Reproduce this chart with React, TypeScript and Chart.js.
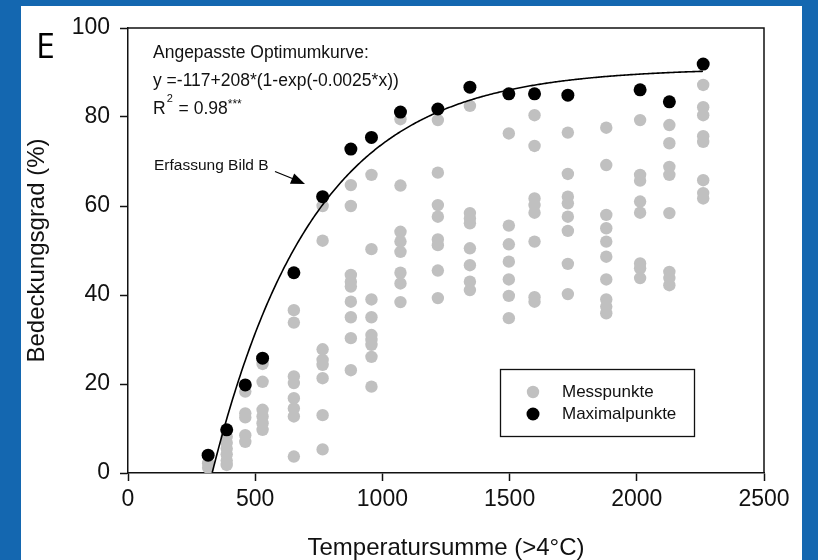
import React, { useEffect, useRef } from "react";
import { Chart, registerables } from "chart.js";

Chart.register(...registerables);

// ---------- data ----------
const xTickValues = [0, 500, 1000, 1500, 2000, 2500];
const yTickValues = [0, 20, 40, 60, 80, 100];

// Maximalpunkte (black)
const maxX = [315, 388, 461, 529, 652, 765, 876, 957, 1071, 1218, 1344, 1497, 1598, 1729, 2013, 2128, 2261];
const maxY = [4.0, 9.7, 19.8, 25.8, 45.0, 62.1, 72.8, 75.4, 81.1, 81.8, 86.7, 85.2, 85.2, 84.9, 86.1, 83.4, 91.9];

// Messpunkte (grey): one x per sampling date, several y values each
const messX = [315, 388, 461, 529, 652, 765, 876, 957, 1071, 1218, 1344, 1497, 1598, 1729, 1880, 2013, 2128, 2261];
const messY = [
  [2.2, 1.2],
  [8.2, 6.8, 5.5, 4.2, 2.8, 1.8],
  [18.3, 13.4, 12.5, 8.5, 7.0],
  [24.5, 20.5, 14.2, 12.7, 11.2, 9.7],
  [36.6, 33.8, 21.7, 20.2, 16.8, 14.5, 12.7, 3.7],
  [60.0, 52.2, 27.8, 25.4, 24.3, 21.3, 13.0, 5.3],
  [64.7, 60.0, 44.5, 43.0, 41.9, 38.5, 35.0, 30.3, 23.1],
  [67.0, 50.3, 39.0, 35.0, 31.0, 29.9, 28.8, 26.1, 19.4],
  [79.5, 64.6, 54.2, 52.0, 49.7, 45.0, 42.6, 38.4],
  [79.3, 67.5, 60.2, 57.6, 52.5, 51.2, 45.5, 39.3],
  [82.5, 58.4, 57.2, 56.1, 50.5, 46.7, 43.0, 41.1],
  [76.3, 55.6, 51.4, 47.5, 43.5, 39.8, 34.8],
  [80.4, 73.5, 61.7, 60.2, 58.5, 52.0, 39.5, 38.5],
  [76.5, 67.2, 62.1, 60.6, 57.6, 54.4, 47.0, 40.2],
  [77.6, 69.2, 58.0, 55.0, 52.0, 48.6, 43.5, 39.0, 37.4, 35.9],
  [79.3, 67.0, 65.7, 61.0, 58.5, 47.1, 46.0, 43.8],
  [78.2, 74.1, 68.8, 67.0, 58.4, 45.2, 43.8, 42.2],
  [87.2, 82.2, 80.4, 75.7, 74.4, 65.8, 62.9, 61.7],
];

// Fitted curve as printed on the chart: y = -117 + 208*(1-exp(-0.0025*x))
const fitA = -117;
const fitB = 208;
const fitK = 0.0025;
const fitXStart = 331;
const fitXEnd = 2260;

const seriesLabels = ["Messpunkte", "Maximalpunkte"];
const annotationLines = ["Angepasste Optimumkurve:", "y =-117+208*(1-exp(-0.0025*x))"];
const r2Text = "0.98";
const markerLabel = "Erfassung Bild B";
const panelLetter = "E";
const xTitle = "Temperatursumme (>4°C)";
const yTitle = "Bedeckungsgrad (%)";

// ---------- styles ----------
const BLUE = "#1467b0";
const GREY = "#c0c0c0";
const FONT = "'Liberation Sans', Arial, sans-serif";

const buildFit = () => {
  const pts: { x: number; y: number }[] = [];
  for (let x = fitXStart; x <= fitXEnd; x += 5) {
    pts.push({ x, y: fitA + fitB * (1 - Math.exp(-fitK * x)) });
  }
  pts.push({ x: fitXEnd, y: fitA + fitB * (1 - Math.exp(-fitK * fitXEnd)) });
  return pts;
};

const decorPlugin = {
  id: "decor",
  afterDraw(chart: any) {
    const { ctx, chartArea } = chart;
    ctx.save();
    // frame (top + right)
    ctx.strokeStyle = "#111";
    ctx.lineWidth = 1.5;
    ctx.beginPath();
    ctx.moveTo(chartArea.left, chartArea.top);
    ctx.lineTo(chartArea.right, chartArea.top);
    ctx.lineTo(chartArea.right, chartArea.bottom);
    ctx.stroke();

    // panel letter
    ctx.fillStyle = "#000";
    ctx.font = "34px 'Open Sans', sans-serif";
    ctx.textAlign = "left";
    ctx.textBaseline = "alphabetic";
    ctx.fillText(panelLetter, 36, 58);

    // annotation
    ctx.fillStyle = "#111";
    ctx.font = `17.5px ${FONT}`;
    ctx.fillText(annotationLines[0], 153, 58);
    ctx.fillText(annotationLines[1], 153, 86);
    let x = 153;
    ctx.fillText("R", x, 114);
    x += ctx.measureText("R").width;
    ctx.font = `11px ${FONT}`;
    ctx.fillText("2", x + 1, 102);
    x += ctx.measureText("2").width + 2;
    ctx.font = `17.5px ${FONT}`;
    const mid = " = " + r2Text;
    ctx.fillText(mid, x, 114);
    x += ctx.measureText(mid).width;
    ctx.font = `12px ${FONT}`;
    ctx.fillText("***", x, 108);

    // marker label + arrow
    ctx.font = `15.5px ${FONT}`;
    ctx.fillText(markerLabel, 154, 170);
    ctx.strokeStyle = "#000";
    ctx.lineWidth = 1.3;
    ctx.beginPath();
    ctx.moveTo(275, 171.5);
    ctx.lineTo(296, 180);
    ctx.stroke();
    const tx = 305, ty = 184;
    const ang = Math.atan2(ty - 171.5, tx - 275);
    const hl = 14, hw = 5.5;
    const bx = tx - hl * Math.cos(ang), by = ty - hl * Math.sin(ang);
    ctx.fillStyle = "#000";
    ctx.beginPath();
    ctx.moveTo(tx, ty);
    ctx.lineTo(bx + hw * Math.sin(ang), by - hw * Math.cos(ang));
    ctx.lineTo(bx - hw * Math.sin(ang), by + hw * Math.cos(ang));
    ctx.closePath();
    ctx.fill();

    // legend
    ctx.strokeStyle = "#111";
    ctx.lineWidth = 1.3;
    ctx.fillStyle = "#fff";
    ctx.fillRect(500, 369, 194, 67);
    ctx.strokeRect(500.5, 369.5, 194, 67);
    ctx.fillStyle = GREY;
    ctx.beginPath();
    ctx.arc(533, 392, 6.2, 0, Math.PI * 2);
    ctx.fill();
    ctx.fillStyle = "#000";
    ctx.beginPath();
    ctx.arc(533, 414, 6.5, 0, Math.PI * 2);
    ctx.fill();
    ctx.fillStyle = "#111";
    ctx.font = `17px ${FONT}`;
    ctx.textBaseline = "middle";
    ctx.fillText(seriesLabels[0], 562, 392);
    ctx.fillText(seriesLabels[1], 562, 414);
    ctx.restore();
  },
};

export default function App() {
  const ref = useRef<HTMLCanvasElement | null>(null);

  useEffect(() => {
    if (!ref.current) return;
    const greyPts: { x: number; y: number }[] = [];
    messX.forEach((x, i) => messY[i].forEach((y) => greyPts.push({ x, y })));
    const blackPts = maxX.map((x, i) => ({ x, y: maxY[i] }));

    const chart = new Chart(ref.current, {
      type: "scatter",
      data: {
        datasets: [
          {
            label: seriesLabels[1],
            data: blackPts,
            backgroundColor: "#000",
            borderWidth: 0,
            pointRadius: 6.5,
            order: 0,
          },
          {
            type: "line",
            label: "fit",
            data: buildFit(),
            borderColor: "#000",
            borderWidth: 1.6,
            pointRadius: 0,
            fill: false,
            tension: 0,
            order: 1,
          } as any,
          {
            label: seriesLabels[0],
            data: greyPts,
            backgroundColor: GREY,
            borderWidth: 0,
            pointRadius: 6.2,
            order: 2,
          },
        ],
      },
      options: {
        responsive: false,
        animation: false,
        layout: { padding: { left: 0, right: 54, top: 28, bottom: 0 } },
        plugins: {
          legend: { display: false },
          tooltip: { enabled: false },
        },
        scales: {
          x: {
            type: "linear",
            min: 0,
            max: 2500,
            afterBuildTicks: (s: any) => {
              s.ticks = xTickValues.map((v) => ({ value: v }));
            },
            afterFit: (s: any) => {
              s.height = 87;
            },
            ticks: {
              color: "#111",
              font: { family: FONT, size: 23 },
              padding: 5,
              maxRotation: 0,
              callback: (v: any) => String(v),
            },
            grid: {
              drawOnChartArea: false,
              drawTicks: true,
              tickLength: 8,
              tickColor: "#111",
              tickWidth: 1.5,
            },
            border: { display: true, color: "#111", width: 1.5 },
            title: {
              display: true,
              text: xTitle,
              color: "#111",
              font: { family: FONT, size: 24, lineHeight: 1 },
              padding: { top: 0, bottom: 0 },
            },
          },
          y: {
            type: "linear",
            min: 0,
            max: 100,
            afterBuildTicks: (s: any) => {
              s.ticks = yTickValues.map((v) => ({ value: v }));
            },
            afterFit: (s: any) => {
              s.width = 128;
            },
            ticks: {
              color: "#111",
              font: { family: FONT, size: 23 },
              padding: 10,
              callback: (v: any) => String(v),
            },
            grid: {
              drawOnChartArea: false,
              drawTicks: true,
              tickLength: 8,
              tickColor: "#111",
              tickWidth: 1.5,
            },
            border: { display: true, color: "#111", width: 1.5 },
            title: {
              display: true,
              text: yTitle,
              color: "#111",
              font: { family: FONT, size: 24, lineHeight: 1 },
              padding: { top: 25, bottom: 0 },
            },
          },
        },
      },
      plugins: [decorPlugin],
    });
    return () => chart.destroy();
  }, []);

  return (
    <div style={{ position: "fixed", left: 0, top: 0, width: 818, height: 560, background: BLUE }}>
      <div style={{ position: "absolute", left: 21, top: 6, width: 781, height: 554, background: "#fff" }} />
      <canvas ref={ref} width={818} height={560} style={{ position: "absolute", left: 0, top: 0, display: "block" }} />
    </div>
  );
}
